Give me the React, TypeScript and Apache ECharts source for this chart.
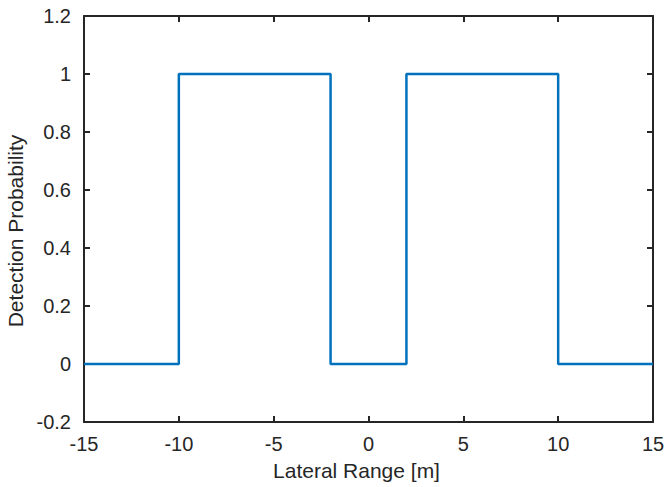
import React, { useEffect, useRef } from "react";
import * as echarts from "echarts";

const xValues = [-15, -10, -10, -2, -2, 2, 2, 10, 10, 15];
const yValues = [0, 0, 1, 1, 0, 0, 1, 1, 0, 0];
const xTicks = [-15, -10, -5, 0, 5, 10, 15];
const yTicks = [-0.2, 0, 0.2, 0.4, 0.6, 0.8, 1, 1.2];

const FONT = "Liberation Sans, Arial, Helvetica, sans-serif";
const AX = "#262626";

export default function App() {
  const ref = useRef<HTMLDivElement>(null);
  useEffect(() => {
    const chart = echarts.init(ref.current!, undefined, { renderer: "svg" });
    const common = {
      type: "value" as const,
      axisLine: { show: true, onZero: false, lineStyle: { color: AX, width: 2 } },
      axisTick: { show: true, inside: true, length: 6, lineStyle: { color: AX, width: 2 } },
      splitLine: { show: false },
    };
    chart.setOption({
      animation: false,
      grid: { left: 84, right: 12, top: 16, bottom: 65, containLabel: false, outerBoundsMode: "none" },
      xAxis: [
        {
          ...common,
          position: "bottom",
          min: -15,
          max: 15,
          interval: 5,
          name: "Lateral Range [m]",
          nameLocation: "middle",
          nameGap: 38,
          nameTextStyle: { fontFamily: FONT, fontSize: 21, color: AX, padding: [0, 24, 0, 0] },
          axisLabel: {
            fontFamily: FONT,
            fontSize: 20,
            color: AX,
            margin: 12,
            formatter: (v: number) => (xTicks.includes(v) ? String(v) : ""),
          },
        },
        {
          ...common,
          position: "top",
          min: -15,
          max: 15,
          interval: 5,
          axisLabel: { show: false },
        },
      ],
      yAxis: [
        {
          ...common,
          position: "left",
          min: -0.2,
          max: 1.2,
          interval: 0.2,
          name: "Detection Probability",
          nameLocation: "middle",
          nameGap: 57,
          nameTextStyle: { fontFamily: FONT, fontSize: 21, color: AX, padding: [0, 24, 0, 0] },
          axisLabel: {
            fontFamily: FONT,
            fontSize: 20,
            color: AX,
            margin: 13,
            formatter: (v: number) => {
              const r = Math.round(v * 10) / 10;
              return yTicks.some((t) => Math.abs(t - r) < 1e-9) ? String(r) : "";
            },
          },
        },
        {
          ...common,
          position: "right",
          min: -0.2,
          max: 1.2,
          interval: 0.2,
          axisLabel: { show: false },
        },
      ],
      series: [
        {
          type: "line",
          data: xValues.map((x, i) => [x, yValues[i]]),
          showSymbol: false,
          lineStyle: { color: "#0072BD", width: 2.5 },
          itemStyle: { color: "#0072BD" },
        },
      ],
    });
    return () => chart.dispose();
  }, []);
  return (
    <div
      ref={ref}
      style={{ position: "fixed", left: 0, top: 0, width: 665, height: 487, background: "#fff" }}
    />
  );
}
